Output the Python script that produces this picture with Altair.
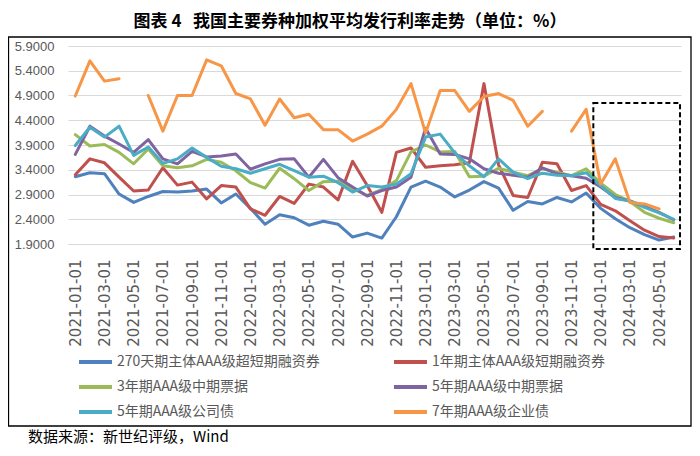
import altair as alt
import pandas as pd

# ---- categories ----
dates = [f"{y}-{m:02d}-01" for y in range(2021, 2025) for m in range(1, 13)][:42]
label_dates = dates[::2]

series_names = [
    "270天期主体AAA级超短期融资券",
    "1年期主体AAA级短期融资券",
    "3年期AAA级中期票据",
    "5年期AAA级中期票据",
    "5年期AAA级公司债",
    "7年期AAA级企业债",
]
series_colors = ["#4F81BD", "#C0504D", "#9BBB59", "#8064A2", "#4BACC6", "#F79646"]

# ---- series values ----
cp270 = [3.26, 3.34, 3.32, 2.91, 2.74, 2.86, 2.96, 2.95, 2.97, 3.01,
         2.73, 2.91, 2.62, 2.30, 2.49, 2.43, 2.28, 2.36, 2.30, 2.04,
         2.12, 2.02, 2.45, 3.05, 3.17, 3.05, 2.85, 2.99, 3.16, 3.03,
         2.58, 2.76, 2.71, 2.84, 2.75, 2.93, 2.62, 2.41, 2.23, 2.09,
         1.98, 2.04]
cp1y = [3.30, 3.62, 3.54, 3.25, 2.97, 2.99, 3.44, 3.09, 3.15, 2.81,
        3.08, 3.05, 2.61, 2.48, 2.86, 2.72, 3.11, 3.05, 2.79, 3.57,
        3.08, 2.54, 3.75, 3.84, 3.45, 3.48, 3.50, 3.54, 5.14, 3.50,
        2.88, 2.84, 3.55, 3.52, 2.98, 3.08, 2.70, 2.57, 2.37, 2.18,
        2.05, 2.02]
mtn3y = [4.11, 3.88, 3.91, 3.75, 3.52, 3.82, 3.48, 3.44, 3.48, 3.61,
         3.55, 3.38, 3.14, 3.03, 3.43, 3.22, 2.98, 3.16, 3.17, 3.02,
         2.88, 3.00, 3.18, 3.76, 3.90, 3.76, 3.77, 3.26, 3.27, 3.43,
         3.35, 3.28, 3.42, 3.35, 3.28, 3.42, 3.13, 2.90, 2.76, 2.54,
         2.42, 2.33]
mtn5y = [3.71, 4.28, 4.08, 3.92, 3.75, 4.01, 3.62, 3.52, 3.77, 3.66,
         3.68, 3.72, 3.41, 3.52, 3.61, 3.62, 3.25, 3.61, 3.24, 3.05,
         2.87, 2.98, 3.05, 3.25, 4.24, 3.72, 3.71, 3.62, 3.42, 3.33,
         3.29, 3.25, 3.44, 3.32, 3.28, 3.23, 3.05, 2.84, 2.77, 2.66,
         2.54, 2.39]
corp5y = [3.89, 4.26, 4.06, 4.28, 3.69, 3.86, 3.53, 3.62, 3.84, 3.65,
          3.47, 3.42, 3.33, 3.42, 3.51, 3.38, 3.25, 3.27, 3.14, 2.95,
          3.08, 3.05, 3.11, 3.32, 4.06, 4.12, 3.74, 3.48, 3.26, 3.62,
          3.35, 3.22, 3.33, 3.29, 3.28, 3.34, 3.08, 2.82, 2.77, 2.64,
          2.53, 2.40]
ent7y = [4.89, 5.60, 5.19, 5.24, None, 4.90, 4.18, 4.90, 4.90, 5.62,
         5.50, 4.94, 4.83, 4.30, 4.83, 4.45, 4.52, 4.21, 4.21, 3.98,
         4.12, 4.28, 4.62, 5.14, 4.14, 5.00, 5.00, 4.58, 4.88, 4.94,
         4.80, 4.28, 4.58, None, 4.18, 4.62, 3.11, 3.62, 2.74, 2.71,
         2.61, None]

series_values = [cp270, cp1y, mtn3y, mtn5y, corp5y, ent7y]

y_ticks = [1.9, 2.4, 2.9, 3.4, 3.9, 4.4, 4.9, 5.4, 5.9]

TITLE = "图表\u00a04\u00a0\u00a0\u00a0我国主要券种加权平均发行利率走势（单位：%）"
SOURCE = "数据来源：新世纪评级，Wind"

# highlight box (data coordinates)
box = pd.DataFrame([{"x": "2023-12-01", "x2": "2024-06-01", "y": 4.75, "y2": 1.80}])

rows = []
for name, vals in zip(series_names, series_values):
    for d, v in zip(dates, vals):
        rows.append({"date": d, "series": name, "rate": v})
df = pd.DataFrame(rows)
one = pd.DataFrame([{"k": 0}])

GREY = "#595959"
CJK = "Noto Sans CJK SC"

x_scale = alt.Scale(type="point", domain=dates, padding=0.5)
y_scale = alt.Scale(domain=[1.9, 5.9], nice=False, zero=False)
x_axis = alt.Axis(values=label_dates, labelAngle=270, labelFont="DejaVu Sans",
                  labelFontSize=15, labelColor=GREY, labelPadding=15,
                  labelOverlap=False, ticks=False, domain=True,
                  domainColor="#D9D9D9", grid=False, title=None)
y_axis = alt.Axis(values=y_ticks, format=".4f", labelFont="Liberation Sans",
                  labelFontSize=13, labelColor=GREY, labelPadding=14,
                  labelOverlap=False, ticks=False, domain=False, grid=True,
                  gridColor="#D9D9D9", title=None)

lines = alt.Chart(df).mark_line(strokeWidth=3, strokeJoin="round", strokeCap="round").encode(
    x=alt.X("date:O", scale=x_scale, axis=x_axis),
    y=alt.Y("rate:Q", scale=y_scale, axis=y_axis),
    color=alt.Color("series:N",
                    scale=alt.Scale(domain=series_names, range=series_colors),
                    legend=alt.Legend(orient="none", legendX=9, legendY=306, columns=2,
                                      direction="horizontal",
                                      symbolType="stroke", symbolSize=1089,
                                      symbolStrokeWidth=4, columnPadding=72,
                                      rowPadding=5, clipHeight=20, labelFontSize=14,
                                      labelFont=CJK, labelColor=GREY, labelOffset=3,
                                      labelLimit=400, padding=0, title=None)),
)

hbox = alt.Chart(box).mark_rect(fillOpacity=0, stroke="black", strokeWidth=2,
                                strokeDash=[5, 3], xOffset=7.2, x2Offset=6.3,
                                clip=False).encode(
    x=alt.X("x:O", scale=x_scale, axis=x_axis), x2="x2",
    y=alt.Y("y:Q", scale=y_scale, axis=y_axis), y2="y2:Q")

frame = alt.Chart(one).mark_rect(fillOpacity=0, stroke="black", strokeWidth=1.3).encode(
    x=alt.value(-59.5), x2=alt.value(623), y=alt.value(-9), y2=alt.value(380))

title = alt.Chart(one).mark_text(font=CJK, fontSize=17, fontWeight="bold",
                                 baseline="middle", align="center", color="black").encode(
    x=alt.value(282), y=alt.value(-24), text=alt.value(TITLE))

source = alt.Chart(one).mark_text(font=CJK, fontSize=15, baseline="middle",
                                  align="left", color="black").encode(
    x=alt.value(-40), y=alt.value(391), text=alt.value(SOURCE))

chart = alt.layer(frame, lines, hbox, title, source).properties(
    width=613, height=198,
    autosize=alt.AutoSizeParams(type="none"),
    padding={"left": 60, "top": 38, "right": 11, "bottom": 204},
    background="white",
).configure_view(stroke=None).configure_axis(labelOverlap=False)

chart.save("out.html", embed_options={"renderer": "svg", "actions": False})
